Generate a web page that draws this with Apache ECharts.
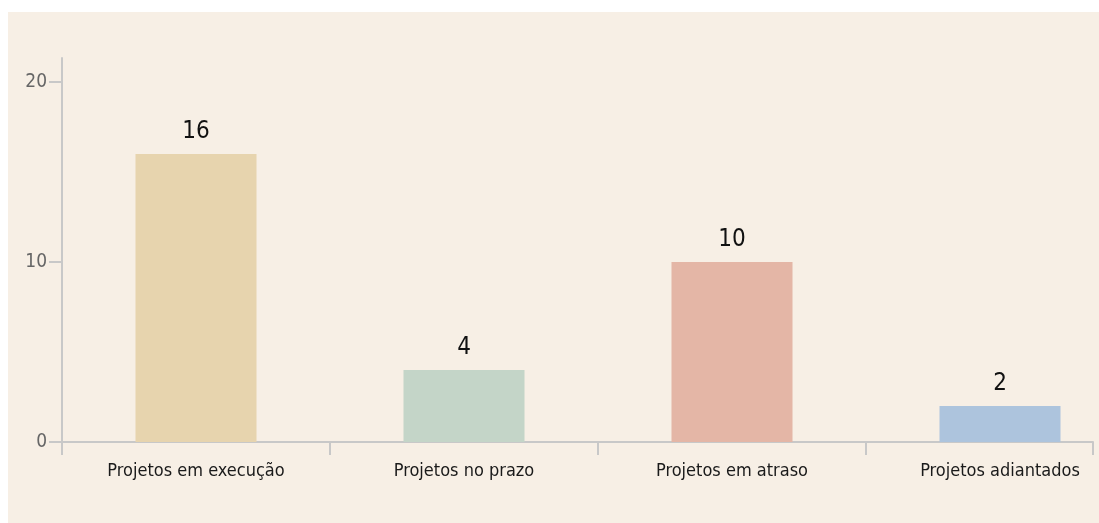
<!DOCTYPE html>
<html>
<head>
<meta charset="utf-8">
<script src="https://cdn.jsdelivr.net/npm/echarts@6/dist/echarts.min.js"></script>
<style>
  html, body { margin: 0; padding: 0; background: #ffffff; }
  .panel { position: absolute; left: 8px; top: 12px; width: 1091px; height: 511px; background: #f7efe5; }
  #chart { position: absolute; left: 0; top: 0; width: 1099px; height: 523px; }
</style>
</head>
<body>
<div class="panel"></div>
<div id="chart"></div>
<script>
var categories = ['Projetos em execução', 'Projetos no prazo', 'Projetos em atraso', 'Projetos adiantados'];
var values = [16, 4, 10, 2];
var barColors = ['#e7d4ae', '#c4d5c8', '#e4b6a6', '#adc4dd'];
var yTicks = [0, 10, 20];

var font = '"Liberation Sans Narrow", "DejaVu Sans Condensed", sans-serif';
var axisColor = '#c8c8c8';

var chart = echarts.init(document.getElementById('chart'));

var seriesData = values.map(function (v, i) {
    return { value: [i, v], itemStyle: { color: barColors[i] } };
});
// band edges, the last band runs past the end of the axis
var xTicks = [-0.5, 0.5, 1.5, 2.5, 3.347];

var option = {
    animation: false,
    grid: { left: 62, top: 58, right: 6, bottom: 81 },
    xAxis: {
        type: 'value',
        min: -0.5,
        max: 3.347,
        splitLine: { show: false },
        axisLine: { show: true, onZero: false, lineStyle: { color: axisColor, width: 2 } },
        axisTick: { show: true, length: 13, customValues: xTicks, lineStyle: { color: axisColor, width: 2 } },
        axisLabel: {
            customValues: [0, 1, 2, 3],
            formatter: function (v) { return categories[Math.round(v)]; },
            color: '#1a1a1a',
            fontFamily: font,
            fontSize: 18,
            margin: 20
        }
    },
    yAxis: {
        type: 'value',
        min: 0,
        max: 21.33,
        splitLine: { show: false },
        axisLine: { show: true, onZero: false, lineStyle: { color: axisColor, width: 2 } },
        axisTick: { show: true, length: 13, customValues: yTicks, lineStyle: { color: axisColor, width: 2 } },
        axisLabel: {
            customValues: yTicks,
            color: '#666666',
            fontFamily: font,
            fontSize: 19,
            margin: 15
        }
    },
    series: [{
        type: 'bar',
        barWidth: 121,
        data: seriesData,
        label: {
            show: true,
            position: 'top',
            distance: 10,
            color: '#111111',
            fontFamily: font,
            fontSize: 24,
            formatter: function (p) { return p.value[1]; }
        }
    }]
};

chart.setOption(option);
</script>
</body>
</html>
